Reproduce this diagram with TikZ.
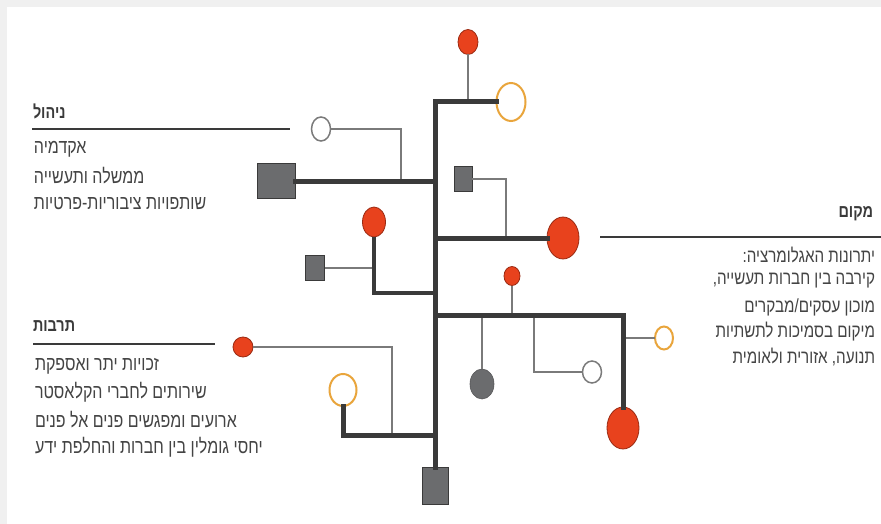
\documentclass[tikz,border=0pt]{standalone}
\usepackage{fontspec}
\usetikzlibrary{shapes.geometric}
\TeXXeTstate=1
\newfontfamily\hebfont[Script=Hebrew,FakeStretch=0.8]{Liberation Sans}
\definecolor{redfill}{HTML}{E8421D}
\definecolor{redline}{HTML}{9A2A12}
\definecolor{orangeline}{HTML}{E9A53C}
\definecolor{sqfill}{HTML}{6B6C6E}
\definecolor{darkline}{HTML}{3A3A3A}
\definecolor{thinline}{HTML}{7A7A7A}
\definecolor{framegray}{HTML}{F0F0F0}
\definecolor{txtgray}{HTML}{444444}
\begin{document}
\begin{tikzpicture}[x=1pt,y=-1pt,
  every node/.style={inner sep=0pt,outer sep=0pt},
  reddot/.style={ellipse,fill=redfill,draw=redline,line width=0.8pt},
  orangering/.style={ellipse,fill=white,draw=orangeline,line width=2pt},
  grayring/.style={ellipse,fill=white,draw=thinline,line width=1.5pt},
  grayfill/.style={ellipse,fill=sqfill,draw=sqfill!80!black,line width=0.6pt},
  sq/.style={rectangle,fill=sqfill,draw=darkline,line width=1pt},
  thickl/.style={draw=darkline,line width=5pt,line join=miter,line cap=rect},
  medl/.style={draw=darkline,line width=4pt,line join=miter},
  thinl/.style={draw=thinline,line width=1.3pt},
  headl/.style={draw=darkline,line width=1.2pt},
  txt/.style={font=\hebfont\fontsize{20}{22}\selectfont,text=txtgray},
  txtr/.style={font=\hebfont\fontsize{19}{21}\selectfont,text=txtgray},
  head/.style={font=\hebfont\bfseries\fontsize{18}{20}\selectfont,text=darkline}]
\useasboundingbox (0,0) rectangle (881,524);
\fill[framegray] (0,0) rectangle (881,524);
\fill[white] (7,7) rectangle (881,524);

% coordinates
\coordinate (ttop) at (435,102);
\coordinate (j1) at (435,181);
\coordinate (j2) at (435,238);
\coordinate (j3) at (435,293);
\coordinate (j4) at (435,315);
\coordinate (j5) at (435,435);

% shapes
\node[reddot,minimum width=20,minimum height=25] (topred) at (468,42) {};
\node[orangering,minimum width=29,minimum height=38] (toporange) at (511,102) {};
\node[sq,minimum width=38,minimum height=35] (leftsq) at (276,181) {};
\node[grayring,minimum width=19,minimum height=24] (leftring) at (321,129) {};
\node[sq,minimum width=18,minimum height=24] (rsq) at (463,179) {};
\node[reddot,minimum width=32,minimum height=42] (rred) at (563,238) {};
\node[reddot,minimum width=23,minimum height=30] (lred) at (374,222) {};
\node[sq,minimum width=19,minimum height=25] (lsq) at (315,268) {};
\node[reddot,minimum width=32,minimum height=42] (bigred) at (623,428) {};
\node[orangering,minimum width=18,minimum height=23] (rorange) at (664,338) {};
\node[reddot,minimum width=16,minimum height=19] (smred) at (512,276) {};
\node[grayfill,minimum width=24,minimum height=30] (grayel) at (482,384) {};
\node[grayring,minimum width=19,minimum height=22] (rring) at (592,372) {};
\node[reddot,minimum width=20,minimum height=20] (blred) at (243,347) {};
\node[orangering,minimum width=27,minimum height=32] (blorange) at (343,390) {};
\node[sq,minimum width=26,minimum height=37] (botsq) at (435,486) {};

% thin connectors
\draw[thinl] (topred.south) -- (topred.south |- ttop);
\draw[thinl] (leftring.east) -- (401,129) -- (401,181);
\draw[thinl] (rsq.east) -- (506,179) -- (506,238);
\draw[thinl] (lsq.east) -- (374,268);
\draw[thinl] (smred.south) -- (smred.south |- j4);
\draw[thinl] (grayel.north) -- (grayel.north |- j4);
\draw[thinl] (534,315) -- (534,372) -- (rring.west);
\draw[thinl] (623,338) -- (rorange.west);
\draw[thinl] (blred.east) -- (392,347) -- (392,435);

% thick connectors
\draw[thickl] (toporange.west) -- (ttop) -- (botsq.north);
\draw[thickl] (leftsq.east) -- (j1);
\draw[thickl] (j2) -- (rred.west);
\draw[medl] (lred.south) -- (374,293) -- (j3);
\draw[thickl] (j4) -- (623,315) -- (bigred.north);
\draw[thickl] (blorange.south) -- (343,435) -- (j5);

% header rules
\draw[headl] (32,129) -- (290,129);
\draw[headl] (600,237) -- (881,237);
\draw[headl] (33,344) -- (215,344);

% texts left top
\node[head,anchor=west] (h1) at (33,111) {\beginR ניהול\endR};
\node[txt,anchor=west] (t11) at (34,149) {\beginR אקדמיה\endR};
\node[txt,anchor=west] (t12) at (34,176) {\beginR ממשלה ותעשייה\endR};
\node[txt,anchor=west] (t13) at (34,204) {\beginR שותפויות ציבוריות-פרטיות\endR};

% texts right
\node[head,anchor=east] (h2) at (873,214) {\beginR מקום\endR};
\node[txtr,anchor=east] (t21) at (875,255) {\beginR יתרונות האגלומרציה:\endR};
\node[txtr,anchor=east] (t22) at (875,281) {\beginR קירבה בין חברות תעשייה,\endR};
\node[txtr,anchor=east] (t23) at (875,307) {\beginR מוכון עסקים/מבקרים\endR};
\node[txtr,anchor=east] (t24) at (875,332) {\beginR מיקום בסמיכות לתשתיות\endR};
\node[txtr,anchor=east] (t25) at (875,357) {\beginR תנועה, אזורית ולאומית\endR};

% texts bottom left
\node[head,anchor=west] (h3) at (33,326) {\beginR תרבות\endR};
\node[txt,anchor=west] (t31) at (35,366) {\beginR זכויות יתר ואספקת\endR};
\node[txt,anchor=west] (t32) at (35,392) {\beginR שירותים לחברי הקלאסטר\endR};
\node[txt,anchor=west] (t33) at (35,420) {\beginR ארועים ומפגשים פנים אל פנים\endR};
\node[txt,anchor=west] (t34) at (35,447) {\beginR יחסי גומלין בין חברות והחלפת ידע\endR};
\end{tikzpicture}
\end{document}
